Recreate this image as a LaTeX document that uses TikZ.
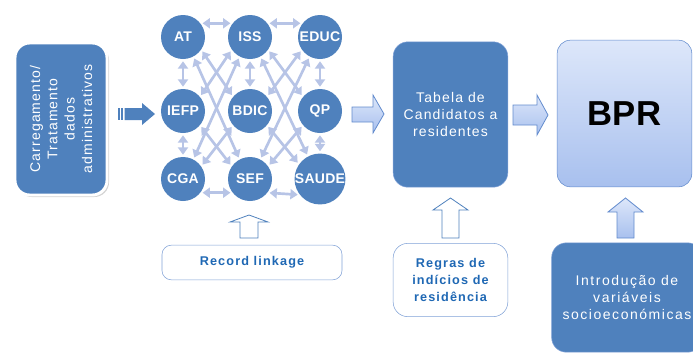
\documentclass[tikz,border=0pt]{standalone}
\usepackage{fontspec}
\setmainfont{Liberation Sans}
\usetikzlibrary{arrows.meta,shadows}

\definecolor{agencyblue}{RGB}{79,129,189}
\definecolor{linkblue}{RGB}{183,196,230}
\definecolor{paleblue}{RGB}{221,231,250}
\definecolor{midblue}{RGB}{168,192,238}
\definecolor{edgeblue}{RGB}{98,139,205}
\definecolor{textblue}{RGB}{31,104,180}

\begin{document}
\begin{tikzpicture}[x=0.75pt,y=0.75pt,yscale=-1,xscale=1,
  agency/.style={circle,fill=agencyblue,minimum size=33pt,inner sep=0pt,text=white,
    font=\fontsize{10.5}{12}\selectfont\bfseries\addfontfeatures{LetterSpace=2}},
  link/.style={draw=linkblue,line width=2pt,
    {Triangle[width=7.5pt,length=5.5pt]}-{Triangle[width=7.5pt,length=5.5pt]},shorten <=1.5pt,shorten >=1.5pt},
  darkbox/.style={rounded corners=11pt,fill=agencyblue,draw=edgeblue!80,text=white,align=center,
    font=\fontsize{10.5}{13}\selectfont\addfontfeatures{LetterSpace=8}},
  rulebox/.style={rounded corners=7pt,fill=white,draw=edgeblue!80,text=textblue,align=center,
    font=\fontsize{9.5}{13}\selectfont\bfseries\addfontfeatures{LetterSpace=9}},
  hollowarrow/.style={draw=agencyblue,fill=white,line width=0.6pt,line join=miter},
  palearrow/.style={draw=edgeblue,top color=paleblue,bottom color=midblue,line width=0.6pt}
]
\path[use as bounding box] (0,0) rectangle (693,354);

%Shape: Rounded Rect (source)
\draw (61,119) node [darkbox,rotate=90,minimum width=114pt,minimum height=69pt,draw=white,line width=2.2pt,
  drop shadow={shadow xshift=1.5pt,shadow yshift=-1.5pt,opacity=0.35}] (src)
  {Carregamento/\\Tratamento\\dados\\administrativos};

%Shape: Striped Right Arrow
\fill [agencyblue] (118,108) rectangle (119.5,120);
\fill [agencyblue] (121,108) rectangle (123,120);
\fill [agencyblue] (124.5,108) -- (142,108) -- (142,103) -- (155,114) -- (142,125) -- (142,120) -- (124.5,120) -- cycle;

%Shape: Circles (agencies)
\draw (183,37) node [agency] (at) {AT};
\draw (250,37) node [agency] (iss) {ISS};
\draw (320,37) node [agency] (educ) {EDUC};
\draw (183,111) node [agency] (iefp) {IEFP};
\draw (250,111) node [agency] (bdic) {BDIC};
\draw (320,111) node [agency] (qp) {QP};
\draw (183,179) node [agency] (cga) {CGA};
\draw (250,179) node [agency] (sef) {SEF};
\draw (320,179) node [agency] (saude) {SAUDE};

%Straight Lines (rows)
\draw [link] (at.38) -- (iss.142);
\draw [link] (iss.38) -- (educ.142);
\draw [link] (cga.-38) -- (sef.-142);
\draw [link] (sef.-38) -- (saude.-142);
%Straight Lines (columns)
\draw [link] (at) -- (iefp);
\draw [link] (iefp) -- (cga);
\draw [link] (iss) -- (bdic);
\draw [link] (educ) -- (qp);
\draw [link] (qp) -- (saude);
%Straight Lines (left crossings)
\draw [link] (at.-62) -- (sef.118);
\draw [link] (iss.-118) -- (cga.62);
\draw [link] (at.-35) -- (bdic.140);
\draw [link] (iss.-145) -- (iefp.40);
\draw [link] (iefp.-40) -- (sef.145);
\draw [link] (bdic.-140) -- (cga.35);
%Straight Lines (right crossings)
\draw [link] (iss.-62) -- (saude.118);
\draw [link] (educ.-118) -- (sef.62);
\draw [link] (iss.-35) -- (qp.140);
\draw [link] (educ.-145) -- (bdic.40);
\draw [link] (bdic.-40) -- (saude.145);
\draw [link] (qp.-140) -- (sef.35);

%Shape: Up Arrow (record linkage)
\draw [hollowarrow] (240,238) -- (240,222) -- (230,222) -- (249,215) -- (268,222) -- (258,222) -- (258,238) -- cycle;
% Text Node
\draw (252,262.5) node [rulebox,minimum width=135pt,minimum height=26pt] (rl) {Record linkage};

%Shape: Right Arrow
\draw [palearrow] (352,107) -- (373,107) -- (373,95) -- (384,114) -- (373,133) -- (373,122) -- (352,122) -- cycle;

%Shape: Rounded Rect (candidates)
\draw (450.5,114.5) node [darkbox,minimum width=86pt,minimum height=109pt] (cand)
  {Tabela de\\Candidatos a\\residentes};

%Shape: Up Arrow (rules)
\draw [hollowarrow] (442,238) -- (442,210) -- (433,210) -- (450.5,198) -- (468,210) -- (459,210) -- (459,238) -- cycle;
% Text Node
\draw (450.5,280) node [rulebox,rounded corners=11pt,minimum width=86pt,minimum height=55pt] (rules)
  {Regras de\\indícios de\\residência};

%Shape: Right Arrow
\draw [palearrow] (513,105) -- (537,105) -- (537,95) -- (548,115) -- (537,135) -- (537,125) -- (513,125) -- cycle;

%Shape: Rounded Rect (BPR)
\draw (624.5,113.5) node [rounded corners=10pt,draw=edgeblue,top color=paleblue,bottom color=midblue,
  minimum width=101pt,minimum height=110pt,font=\fontsize{26}{30}\selectfont\bfseries] (bpr) {BPR};

%Shape: Up Arrow (variables)
\draw [palearrow] (617,238) -- (617,212) -- (608,212) -- (625.5,198) -- (643,212) -- (634,212) -- (634,238) -- cycle;
% Text Node
\draw (627,297.5) node [darkbox,minimum width=113pt,minimum height=82pt,
  font=\fontsize{10.5}{13}\selectfont\addfontfeatures{LetterSpace=11}] (vars)
  {Introdução de\\variáveis\\socioeconómicas};

\end{tikzpicture}
\end{document}
